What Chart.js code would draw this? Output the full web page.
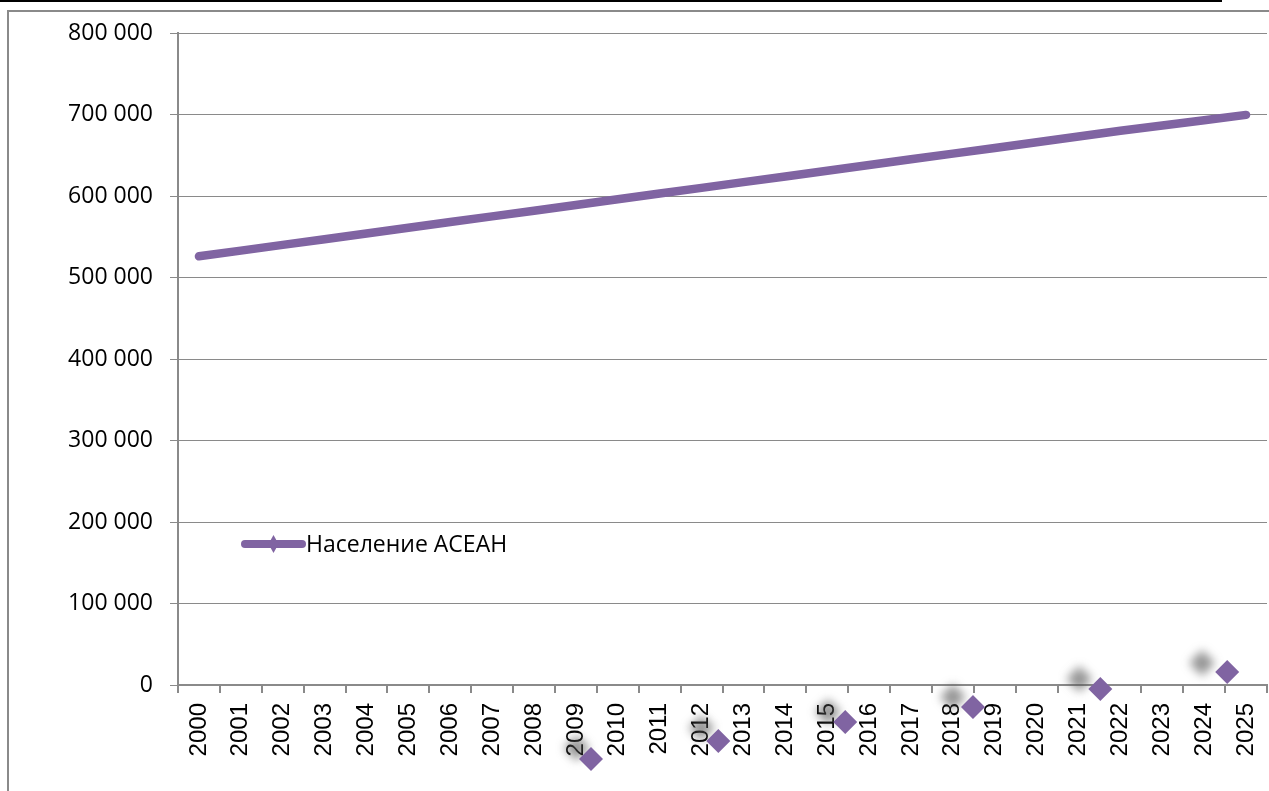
<!DOCTYPE html>
<html>
<head>
<meta charset="utf-8">
<script src="https://cdn.jsdelivr.net/npm/chart.js@4/dist/chart.umd.min.js"></script>
<style>
  html, body { margin: 0; padding: 0; background: #fff; overflow: hidden; }
  .topline { position: absolute; left: 0; top: 0; width: 1222px; height: 2px; background: #000; }
  .frame { position: absolute; left: 7px; top: 10px; width: 1300px; height: 900px;
           border-left: 2px solid #8a8a8a; border-top: 2px solid #8a8a8a; }
  .wrap { position: absolute; left: 0; top: 0; width: 1280px; height: 791px; }
</style>
</head>
<body>
<div class="topline"></div>
<div class="frame"></div>
<div class="wrap"><canvas id="popChart"></canvas></div>
<script>
const years = ["2000", "2001", "2002", "2003", "2004", "2005", "2006", "2007", "2008", "2009",
  "2010", "2011", "2012", "2013", "2014", "2015", "2016", "2017", "2018", "2019",
  "2020", "2021", "2022", "2023", "2024", "2025"];

// population, thousands
const population = [526000, 533000, 540000, 547000, 554000, 561000, 568000, 575000, 582000, 589000,
  596000, 603000, 610000, 617000, 624000, 631000, 638000, 645000, 652000, 659000,
  666000, 673000, 680000, 686500, 693000, 699500];

// stray markers (position in category units, value)
const strayX = [9.36, 12.4, 15.43, 18.48, 21.52, 24.55];
const strayY = [-90800, -68700, -45400, -27000, -4900, 16000];
const shadowX = [9.02, 12.0, 15.02, 18.0, 21.02, 23.95];
const shadowY = [-77300, -52800, -33100, -14700, 7400, 27000];

const yTicks = [0, 100000, 200000, 300000, 400000, 500000, 600000, 700000, 800000];
const seriesName = "Население АСЕАН";
const purple = "#8064a2";

function fmt(v) {
  return String(v).replace(/\B(?=(\d{3})+(?!\d))/g, " ");
}

// markers lie outside the plot area, so draw their elements with the whole canvas as area
const outsidePlugin = {
  id: "outsideMarkers",
  beforeDatasetDraw(chart, args) {
    const ds = chart.data.datasets[args.index];
    if (!ds.outside) return;
    const ctx = chart.ctx;
    const full = { left: 0, top: 0, right: chart.width, bottom: chart.height };
    ctx.save();
    if (ds.blurShadow) ctx.filter = "blur(5px)";
    args.meta.data.forEach((el) => el.draw(ctx, full));
    ctx.restore();
    return false;
  }
};

const legendPlugin = {
  id: "insideLegend",
  afterDraw(chart) {
    const ctx = chart.ctx;
    const a = chart.chartArea;
    const x0 = a.left + 67, x1 = a.left + 124, y = 544;
    ctx.save();
    ctx.strokeStyle = purple;
    ctx.lineWidth = 8;
    ctx.lineCap = "round";
    ctx.beginPath();
    ctx.moveTo(x0, y);
    ctx.lineTo(x1, y);
    ctx.stroke();
    const cx = (x0 + x1) / 2;
    ctx.fillStyle = purple;
    ctx.beginPath();
    ctx.moveTo(cx, y - 9);
    ctx.lineTo(cx + 5, y);
    ctx.lineTo(cx, y + 9);
    ctx.lineTo(cx - 5, y);
    ctx.closePath();
    ctx.fill();
    ctx.fillStyle = "#000";
    ctx.font = "23px 'Open Sans'";
    ctx.textBaseline = "middle";
    ctx.textAlign = "left";
    ctx.fillText(seriesName, x1 + 4, y + 1);
    ctx.restore();
  }
};

new Chart(document.getElementById("popChart"), {
  type: "line",
  data: {
    labels: years,
    datasets: [
      {
        label: seriesName,
        data: population,
        borderColor: purple,
        backgroundColor: purple,
        borderWidth: 8.5,
        borderCapStyle: "round",
        borderJoinStyle: "round",
        pointRadius: 0,
        tension: 0
      },
      {
        label: "markers",
        data: strayX.map((x, i) => ({ x, y: strayY[i] })),
        xAxisID: "x2",
        showLine: false,
        outside: true,
        pointStyle: "rectRot",
        pointRadius: 12,
        pointBorderWidth: 0,
        pointBackgroundColor: purple
      },
      {
        label: "shadows",
        data: shadowX.map((x, i) => ({ x, y: shadowY[i] })),
        xAxisID: "x2",
        showLine: false,
        outside: true,
        blurShadow: true,
        pointStyle: "rectRot",
        pointRadius: 13,
        pointBorderWidth: 0,
        pointBackgroundColor: "rgba(80, 80, 80, 0.6)"
      }
    ]
  },
  options: {
    responsive: true,
    maintainAspectRatio: false,
    animation: false,
    events: [],
    layout: {
      padding: { left: 0, top: 33, right: 10, bottom: 0 }
    },
    plugins: {
      legend: { display: false },
      tooltip: { enabled: false }
    },
    scales: {
      x: {
        type: "category",
        offset: true,
        grid: {
          offset: true,
          drawOnChartArea: false,
          drawTicks: true,
          tickLength: 8,
          color: "#8a8a8a",
          lineWidth: 2
        },
        border: { color: "#8a8a8a", width: 2 },
        ticks: {
          autoSkip: false,
          minRotation: 90,
          maxRotation: 90,
          padding: 10,
          color: "#000",
          font: { family: "'Liberation Sans'", size: 24 }
        },
        afterFit(scale) {
          scale.height = 106;
          scale.paddingLeft = 0;
          scale.paddingRight = 0;
        }
      },
      x2: {
        type: "linear",
        display: false,
        min: -0.5,
        max: 25.5
      },
      y: {
        min: 0,
        max: 800000,
        afterBuildTicks(scale) {
          scale.ticks = yTicks.map((v) => ({ value: v }));
        },
        grid: {
          color: "#8a8a8a",
          lineWidth: 1,
          tickLength: 8
        },
        border: { color: "#8a8a8a", width: 2 },
        ticks: {
          padding: 17,
          color: "#000",
          font: { family: "'Open Sans'", size: 23 },
          callback: (v) => fmt(v)
        },
        afterFit(scale) { scale.width = 178; }
      }
    }
  },
  plugins: [outsidePlugin, legendPlugin]
});
</script>
</body>
</html>
